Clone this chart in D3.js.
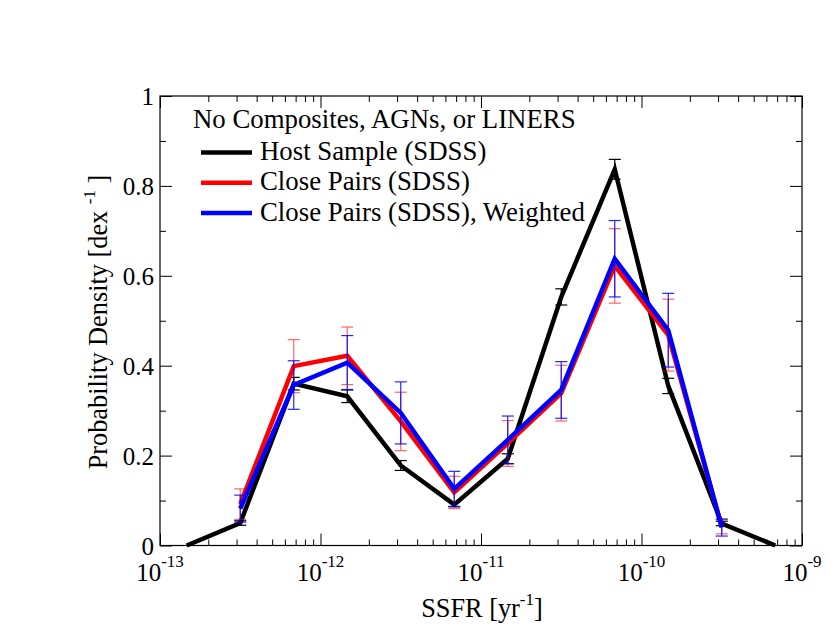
<!DOCTYPE html>
<html>
<head>
<meta charset="utf-8">
<script src="https://cdn.jsdelivr.net/npm/d3@7"></script>
<style>
  html, body { margin: 0; padding: 0; background: #fff; }
  text { font-family: "Liberation Serif", "Times New Roman", serif; fill: #000; }
</style>
</head>
<body>
<svg id="chart" width="830" height="642"></svg>
<script>
// ---- data (bin centres in SSFR [yr^-1], 1/3 dex bins) ----
const binLog = [-12.8333, -12.5, -12.1667, -11.8333, -11.5, -11.1667, -10.8333, -10.5, -10.1667, -9.8333, -9.5, -9.1667];
const hostValues = [0, 0.050, 0.360, 0.332, 0.178, 0.091, 0.193, 0.553, 0.837, 0.355, 0.049, 0];
const hostErrors = [0, 0.005, 0.014, 0.014, 0.011, 0.005, 0.011, 0.018, 0.022, 0.017, 0.005, 0];
const pairValues = [null, 0.092, 0.399, 0.422, 0.276, 0.118, 0.227, 0.339, 0.622, 0.468, 0.042, null];
const pairErrors = [null, 0.034, 0.059, 0.064, 0.065, 0.036, 0.051, 0.062, 0.083, 0.080, 0.016, null];
const weightedValues = [null, 0.082, 0.357, 0.407, 0.295, 0.126, 0.235, 0.346, 0.638, 0.479, 0.040, null];
const weightedErrors = [null, 0.030, 0.054, 0.060, 0.069, 0.039, 0.053, 0.063, 0.085, 0.082, 0.019, null];
const seriesNames = ["Host Sample (SDSS)", "Close Pairs (SDSS)", "Close Pairs (SDSS), Weighted"];
const seriesColors = ["#000000", "#ff0000", "#0000ff"];
const legendTitle = "No Composites, AGNs, or LINERS";
const xMajorExp = [-13, -12, -11, -10, -9];
const yMajorTicks = [0, 0.2, 0.4, 0.6, 0.8, 1];
const yTickLabels = ["0", "0.2", "0.4", "0.6", "0.8", "1"];
const yMinorTicks = [0.1, 0.3, 0.5, 0.7, 0.9];

// ---- layout ----
const L = 160, R = 802, T = 96, B = 545.5;
const svg = d3.select("#chart");
svg.append("rect").attr("width", 830).attr("height", 642).attr("fill", "#fff");

const x = d3.scaleLog().domain([1e-13, 1e-9]).range([L, R]);
const y = d3.scaleLinear().domain([0, 1]).range([B, T]);

const xMajor = xMajorExp.map(e => Math.pow(10, e));
const xMinor = [];
for (let e = -13; e < -9; e++) for (let m = 2; m <= 9; m++) xMinor.push(m * Math.pow(10, e));

function styleAxis(g) {
  g.select(".domain").remove();
  g.selectAll(".tick line").attr("stroke", "#000").attr("stroke-width", 1);
  g.selectAll(".tick text").remove();
}
// bottom
svg.append("g").attr("transform", `translate(0,${B})`)
  .call(d3.axisBottom(x).tickValues(xMajor).tickSize(-12).tickFormat("")).call(styleAxis);
svg.append("g").attr("transform", `translate(0,${B})`)
  .call(d3.axisBottom(x).tickValues(xMinor).tickSize(-6).tickFormat("")).call(styleAxis);
// top
svg.append("g").attr("transform", `translate(0,${T})`)
  .call(d3.axisTop(x).tickValues(xMajor).tickSize(-12).tickFormat("")).call(styleAxis);
svg.append("g").attr("transform", `translate(0,${T})`)
  .call(d3.axisTop(x).tickValues(xMinor).tickSize(-6).tickFormat("")).call(styleAxis);
// left
svg.append("g").attr("transform", `translate(${L},0)`)
  .call(d3.axisLeft(y).tickValues(yMajorTicks).tickSize(-12).tickFormat("")).call(styleAxis);
svg.append("g").attr("transform", `translate(${L},0)`)
  .call(d3.axisLeft(y).tickValues(yMinorTicks).tickSize(-6).tickFormat("")).call(styleAxis);
// right
svg.append("g").attr("transform", `translate(${R},0)`)
  .call(d3.axisRight(y).tickValues(yMajorTicks).tickSize(-12).tickFormat("")).call(styleAxis);
svg.append("g").attr("transform", `translate(${R},0)`)
  .call(d3.axisRight(y).tickValues(yMinorTicks).tickSize(-6).tickFormat("")).call(styleAxis);

// frame
svg.append("rect").attr("x", L).attr("y", T).attr("width", R - L).attr("height", B - T)
  .attr("fill", "none").attr("stroke", "#000").attr("stroke-width", 1.2);

// tick labels
xMajorExp.forEach(e => {
  const t = svg.append("text").attr("x", x(Math.pow(10, e))).attr("y", B + 35)
    .attr("text-anchor", "middle").attr("font-size", 25);
  t.append("tspan").text("10");
  t.append("tspan").attr("dy", -14).attr("font-size", 17).text(String(e));
});
yMajorTicks.forEach((v, i) => {
  svg.append("text").attr("x", L - 6).attr("y", y(v) + 9)
    .attr("text-anchor", "end").attr("font-size", 25).text(yTickLabels[i]);
});

// axis titles
const xt = svg.append("text").attr("x", 482).attr("y", 617).attr("text-anchor", "middle").attr("font-size", 26.3);
xt.append("tspan").text("SSFR [yr");
xt.append("tspan").attr("dy", -12).attr("font-size", 17).text("-1");
xt.append("tspan").attr("dy", 12).text("]");

const yt = svg.append("text").attr("transform", "translate(107,322) rotate(-90)")
  .attr("text-anchor", "middle").attr("font-size", 26.3);
yt.append("tspan").text("Probability Density [dex ");
yt.append("tspan").attr("dy", -12).attr("font-size", 17).text("-1");
yt.append("tspan").attr("dy", 12).text(" ]");

// ---- series ----
const series = [
  { values: hostValues, errors: hostErrors, color: seriesColors[0], errOpacity: 1 },
  { values: pairValues, errors: pairErrors, color: seriesColors[1], errOpacity: 0.6 },
  { values: weightedValues, errors: weightedErrors, color: seriesColors[2], errOpacity: 0.85 }
];
const line = d3.line().defined(d => d.v !== null).x(d => x(Math.pow(10, d.lx))).y(d => y(d.v));

series.forEach(s => {
  const pts = binLog.map((lx, i) => ({ lx, v: s.values[i], e: s.errors[i] }));
  svg.append("path").datum(pts).attr("d", line)
    .attr("fill", "none").attr("stroke", s.color).attr("stroke-width", 4.5)
    .attr("stroke-linejoin", "miter");
  const eb = svg.append("g").attr("stroke", s.color).attr("stroke-width", 1.2).attr("opacity", s.errOpacity);
  pts.filter(d => d.v !== null && d.e > 0).forEach(d => {
    const cx = x(Math.pow(10, d.lx));
    eb.append("line").attr("x1", cx).attr("x2", cx).attr("y1", y(d.v - d.e)).attr("y2", y(d.v + d.e));
    eb.append("line").attr("x1", cx - 6).attr("x2", cx + 6).attr("y1", y(d.v - d.e)).attr("y2", y(d.v - d.e));
    eb.append("line").attr("x1", cx - 6).attr("x2", cx + 6).attr("y1", y(d.v + d.e)).attr("y2", y(d.v + d.e));
  });
});

// ---- legend ----
svg.append("text").attr("x", 193).attr("y", 128).attr("font-size", 26.8).text(legendTitle);
seriesNames.forEach((name, i) => {
  const ly = 152.5 + i * 30.3;
  svg.append("line").attr("x1", 201).attr("x2", 252).attr("y1", ly).attr("y2", ly)
    .attr("stroke", seriesColors[i]).attr("stroke-width", 4.5);
  svg.append("text").attr("x", 260).attr("y", ly + 7.5).attr("font-size", 26.8).text(name);
});
</script>
</body>
</html>
